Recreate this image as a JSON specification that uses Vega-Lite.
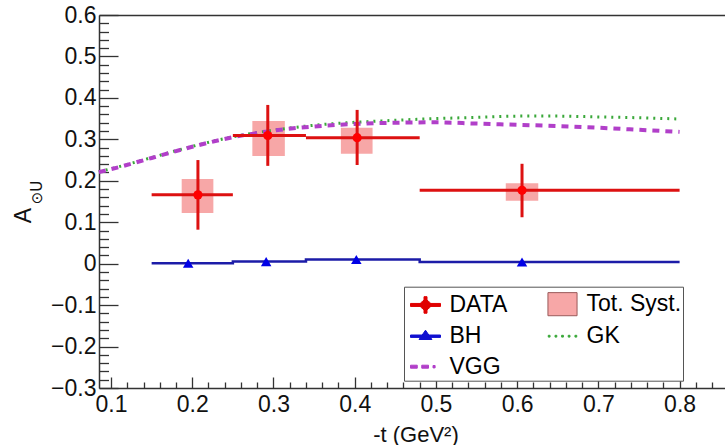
{
  "$schema": "https://vega.github.io/schema/vega-lite/v6.json",
  "width": 626,
  "height": 373,
  "autosize": {"type": "none"},
  "padding": {"left": 99, "top": 15, "right": 0, "bottom": 57},
  "background": "white",
  "config": {
    "view": {"stroke": null},
    "axis": {"labelFont": "Liberation Sans", "labelFontSize": 23, "labelColor": "#111", "titleFont": "Liberation Sans", "titleFontWeight": "normal", "titleColor": "#111", "grid": false, "labelFlush": false, "labelOverlap": false, "labelBound": false, "domainColor": "#333", "domainWidth": 1.5, "tickColor": "#333", "tickWidth": 1.3},
    "legend": {"orient": "none", "legendX": 305, "legendY": 271.7, "offset": 0, "columns": 2, "symbolSize": 900, "labelFont": "Liberation Sans", "labelFontSize": 23, "labelColor": "#000", "labelOffset": 8.5, "rowPadding": 2.5, "columnPadding": 35, "padding": 1.5, "fillColor": "white", "strokeColor": "#555", "symbolOffset": 4.5, "symbolOpacity": 1, "symbolStrokeWidth": 1, "labelLimit": 0}
  },
  "datasets": {
    "data": [
      {"t": 0.207, "a": 0.166, "tlo": 0.15, "thi": 0.25, "alo": 0.082, "ahi": 0.250},
      {"t": 0.293, "a": 0.309, "tlo": 0.25, "thi": 0.34, "alo": 0.236, "ahi": 0.383},
      {"t": 0.403, "a": 0.304, "tlo": 0.34, "thi": 0.48, "alo": 0.238, "ahi": 0.371},
      {"t": 0.606, "a": 0.177, "tlo": 0.48, "thi": 0.80, "alo": 0.112, "ahi": 0.241}
    ],
    "syst": [
      {"tlo": 0.187, "thi": 0.226, "alo": 0.122, "ahi": 0.204},
      {"tlo": 0.274, "thi": 0.314, "alo": 0.260, "ahi": 0.344},
      {"tlo": 0.383, "thi": 0.422, "alo": 0.265, "ahi": 0.328},
      {"tlo": 0.586, "thi": 0.626, "alo": 0.152, "ahi": 0.194}
    ],
    "bhline": [
      {"t": 0.15, "a": 0.001},
      {"t": 0.25, "a": 0.005},
      {"t": 0.34, "a": 0.010},
      {"t": 0.48, "a": 0.004},
      {"t": 0.80, "a": 0.004}
    ],
    "bhpts": [
      {"t": 0.195, "a": 0.001},
      {"t": 0.291, "a": 0.005},
      {"t": 0.402, "a": 0.010},
      {"t": 0.606, "a": 0.004}
    ],
    "vgg": [
      {"t": 0.085, "a": 0.221}, {"t": 0.1, "a": 0.228}, {"t": 0.15, "a": 0.255}, {"t": 0.2, "a": 0.282},
      {"t": 0.25, "a": 0.305}, {"t": 0.3, "a": 0.321}, {"t": 0.35, "a": 0.331}, {"t": 0.4, "a": 0.337},
      {"t": 0.45, "a": 0.340}, {"t": 0.5, "a": 0.341}, {"t": 0.55, "a": 0.338}, {"t": 0.6, "a": 0.335},
      {"t": 0.65, "a": 0.332}, {"t": 0.7, "a": 0.328}, {"t": 0.75, "a": 0.323}, {"t": 0.8, "a": 0.318}
    ],
    "gk": [
      {"t": 0.085, "a": 0.222}, {"t": 0.1, "a": 0.229}, {"t": 0.15, "a": 0.256}, {"t": 0.2, "a": 0.283},
      {"t": 0.25, "a": 0.306}, {"t": 0.3, "a": 0.322}, {"t": 0.35, "a": 0.334}, {"t": 0.4, "a": 0.341},
      {"t": 0.45, "a": 0.346}, {"t": 0.5, "a": 0.350}, {"t": 0.55, "a": 0.353}, {"t": 0.6, "a": 0.356},
      {"t": 0.65, "a": 0.356}, {"t": 0.7, "a": 0.354}, {"t": 0.75, "a": 0.352}, {"t": 0.8, "a": 0.349}
    ],
    "legend": [
      {"series": "DATA"}, {"series": "BH"}, {"series": "VGG"}, {"series": "Tot. Syst."}, {"series": "GK"}
    ]
  },
  "layer": [
    {
      "data": {"name": "syst"},
      "mark": {"type": "rect", "color": "#f7a7a7"},
      "encoding": {
        "x": {"field": "tlo", "type": "quantitative", "scale": {"domain": [0.0852, 0.8559], "nice": false, "zero": false},
              "axis": {"orient": "bottom", "values": [0.1, 0.2, 0.3, 0.4, 0.5, 0.6, 0.7, 0.8], "format": ".1f", "ticks": false, "domain": true, "labelPadding": 5, "title": "-t (GeV²)", "titleFontSize": 22, "titleX": 316.5, "titleY": 53, "titleBaseline": "alphabetic", "titleAlign": "center"}},
        "x2": {"field": "thi"},
        "y": {"field": "alo", "type": "quantitative", "scale": {"domain": [-0.3, 0.6], "nice": false, "zero": false},
              "axis": {"orient": "left", "values": [-0.3, -0.2, -0.1, 0, 0.1, 0.2, 0.3, 0.4, 0.5, 0.6], "format": ".1~f", "ticks": false, "domain": true, "labelPadding": 3, "title": "A", "titleFontSize": 23, "titleAngle": -90, "titleX": -69, "titleY": 200, "titleBaseline": "alphabetic", "titleAlign": "center"}},
        "y2": {"field": "ahi"}
      }
    },
    {
      "data": {"name": "gk"},
      "mark": {"type": "line", "color": "#3aa83a", "strokeWidth": 3, "strokeDash": [2, 5], "interpolate": "monotone"},
      "encoding": {
        "x": {"field": "t", "type": "quantitative",
              "axis": {"orient": "bottom", "values": [0.1, 0.2, 0.3, 0.4, 0.5, 0.6, 0.7, 0.8], "tickSize": -11, "labels": false, "domain": false, "title": null}},
        "y": {"field": "a", "type": "quantitative",
              "axis": {"orient": "left", "values": [-0.3, -0.2, -0.1, 0, 0.1, 0.2, 0.3, 0.4, 0.5, 0.6], "tickSize": -19, "labels": false, "domain": false, "title": "⊙U", "titleFontSize": 15, "titleFont": "DejaVu Sans", "titleAngle": -90, "titleX": -58, "titleY": 177, "titleBaseline": "alphabetic", "titleAlign": "center"}}
      }
    },
    {
      "data": {"name": "vgg"},
      "mark": {"type": "line", "color": "#b13fc9", "strokeWidth": 4, "strokeDash": [7, 6], "interpolate": "monotone"},
      "encoding": {
        "x": {"field": "t", "type": "quantitative",
              "axis": {"orient": "bottom", "values": [0.12, 0.14, 0.16, 0.18, 0.22, 0.24, 0.26, 0.28, 0.32, 0.34, 0.36, 0.38, 0.42, 0.44, 0.46, 0.48, 0.52, 0.54, 0.56, 0.58, 0.62, 0.64, 0.66, 0.68, 0.72, 0.74, 0.76, 0.78, 0.82, 0.84], "tickSize": -6, "labels": false, "domain": false, "title": null}},
        "y": {"field": "a", "type": "quantitative",
              "axis": {"orient": "left", "values": [-0.28, -0.26, -0.24, -0.22, -0.18, -0.16, -0.14, -0.12, -0.08, -0.06, -0.04, -0.02, 0.02, 0.04, 0.06, 0.08, 0.12, 0.14, 0.16, 0.18, 0.22, 0.24, 0.26, 0.28, 0.32, 0.34, 0.36, 0.38, 0.42, 0.44, 0.46, 0.48, 0.52, 0.54, 0.56, 0.58], "tickSize": -9.5, "labels": false, "domain": false, "title": null}}
      }
    },
    {
      "data": {"name": "bhline"},
      "mark": {"type": "line", "color": "#1c1ca8", "strokeWidth": 2.5, "interpolate": "step-after"},
      "encoding": {
        "x": {"field": "t", "type": "quantitative",
              "axis": {"orient": "top", "ticks": false, "labels": false, "domain": true, "title": null}},
        "y": {"field": "a", "type": "quantitative", "axis": null}
      }
    },
    {
      "data": {"name": "bhpts"},
      "mark": {"type": "point", "shape": "triangle-up", "filled": true, "color": "#0000e6", "size": 110, "opacity": 1},
      "encoding": {
        "x": {"field": "t", "type": "quantitative", "axis": null},
        "y": {"field": "a", "type": "quantitative", "axis": null}
      }
    },
    {
      "data": {"name": "data"},
      "mark": {"type": "rule", "color": "#dd1111", "strokeWidth": 3},
      "encoding": {
        "x": {"field": "tlo", "type": "quantitative", "axis": null},
        "x2": {"field": "thi"},
        "y": {"field": "a", "type": "quantitative", "axis": null}
      }
    },
    {
      "data": {"name": "data"},
      "mark": {"type": "rule", "color": "#dd1111", "strokeWidth": 3},
      "encoding": {
        "x": {"field": "t", "type": "quantitative", "axis": null},
        "y": {"field": "alo", "type": "quantitative", "axis": null},
        "y2": {"field": "ahi"}
      }
    },
    {
      "data": {"name": "data"},
      "mark": {"type": "point", "shape": "circle", "filled": true, "color": "#ff0000", "size": 85, "opacity": 1},
      "encoding": {
        "x": {"field": "t", "type": "quantitative", "axis": null},
        "y": {"field": "a", "type": "quantitative", "axis": null}
      }
    },
    {
      "data": {"name": "legend"},
      "mark": {"type": "point", "filled": true, "opacity": 0, "strokeWidth": 1},
      "encoding": {
        "fill": {"field": "series", "type": "nominal", "legend": {"title": null},
                 "scale": {"domain": ["DATA", "BH", "VGG", "Tot. Syst.", "GK"], "range": ["#e00000", "#1010d0", "#b13fc9", "#f7a7a7", "#3aa83a"]}},
        "stroke": {"field": "series", "type": "nominal", "legend": {"title": null},
                 "scale": {"domain": ["DATA", "BH", "VGG", "Tot. Syst.", "GK"], "range": ["#e00000", "#1010d0", "#b13fc9", "#9a5a5a", "#3aa83a"]}},
        "shape": {"field": "series", "type": "nominal", "legend": {"title": null},
                 "scale": {"domain": ["DATA", "BH", "VGG", "Tot. Syst.", "GK"], "range": [
                   "M -1 -0.1 L -0.1 -0.1 L -0.1 -0.55 L 0.1 -0.55 L 0.1 -0.1 L 1 -0.1 L 1 0.1 L 0.1 0.1 L 0.1 0.55 L -0.1 0.55 L -0.1 0.1 L -1 0.1 Z M 0.33 0 L 0.286 0.165 L 0.165 0.286 L 0 0.33 L -0.165 0.286 L -0.286 0.165 L -0.33 0 L -0.286 -0.165 L -0.165 -0.286 L 0 -0.33 L 0.165 -0.286 L 0.286 -0.165 Z",
                   "M -1 -0.08 L 1 -0.08 L 1 0.08 L -1 0.08 Z M 0 -0.4 L 0.43 0.22 L -0.43 0.22 Z",
                   "M -1 -0.1 L -0.55 -0.1 L -0.55 0.1 L -1 0.1 Z M -0.25 -0.1 L 0.2 -0.1 L 0.2 0.1 L -0.25 0.1 Z M 0.5 -0.08 L 0.64 -0.08 L 0.64 0.08 L 0.5 0.08 Z",
                   "M -0.97 -0.77 L 0.97 -0.77 L 0.97 0.77 L -0.97 0.77 Z",
                   "M -0.95 -0.06 L -0.83 -0.06 L -0.83 0.06 L -0.95 0.06 Z M -0.5 -0.06 L -0.38 -0.06 L -0.38 0.06 L -0.5 0.06 Z M -0.06 -0.06 L 0.06 -0.06 L 0.06 0.06 L -0.06 0.06 Z M 0.38 -0.06 L 0.5 -0.06 L 0.5 0.06 L 0.38 0.06 Z M 0.83 -0.06 L 0.95 -0.06 L 0.95 0.06 L 0.83 0.06 Z"
                 ]}}
      }
    }
  ],
  "resolve": {"axis": {"x": "independent", "y": "independent"}}
}
